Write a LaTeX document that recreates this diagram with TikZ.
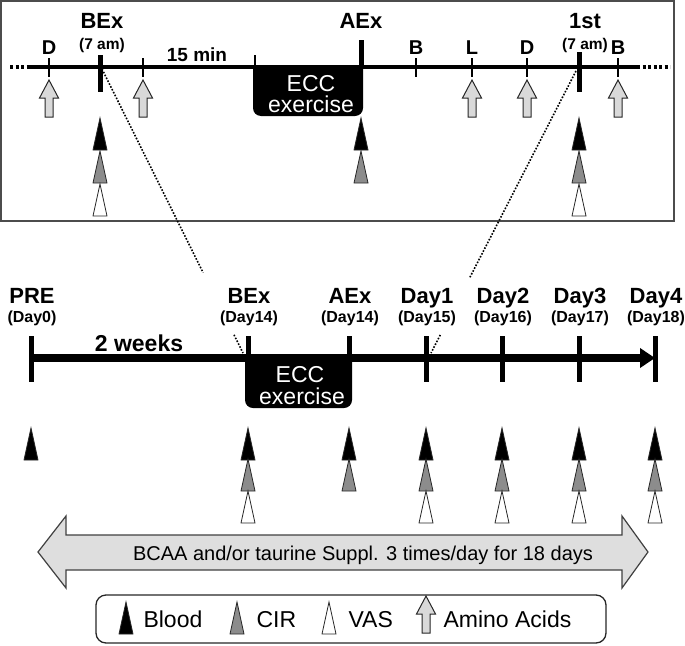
\documentclass[tikz,border=0pt]{standalone}
\usepackage{fontspec}
\setmainfont{Liberation Sans}
\usetikzlibrary{arrows.meta,calc}

\tikzset{
  lbl/.style={font=\fontsize{22}{24}\selectfont\bfseries, anchor=base},
  sublbl/.style={font=\fontsize{16}{18}\selectfont\bfseries, anchor=base},
  mlbl/.style={font=\fontsize{20}{22}\selectfont\bfseries, anchor=base},
  ecctext/.style={font=\fontsize{23}{25}\selectfont, text=white, anchor=base},
  marker/.style={draw=black!85, line width=0.8pt, line join=miter},
  blood/.style={marker, fill=black},
  cir/.style={marker, fill=black!45},
  vas/.style={marker, fill=white},
  pics/tri/.style={code={\path[#1] (-7,0) -- (0,-32) -- (7,0) -- cycle;}},
  pics/amino/.style={code={\path[marker, fill=black!15, line width=1pt]
    (-4,0) -- (-4,-19) -- (-9.5,-19) -- (0,-37) -- (9.5,-19) -- (4,-19) -- (4,0) -- cycle;}},
  tick/.style={line width=2.5pt},
  bigtick/.style={line width=5pt},
  zoomline/.style={line width=1.6pt, dash pattern=on 1.6pt off 1.6pt},
  legtext/.style={font=\fontsize{23}{25}\selectfont, anchor=base west},
}

\begin{document}
\begin{tikzpicture}[x=1pt,y=-1pt]
  \useasboundingbox (0,0) rectangle (685,645);

  % zoomed first day
  \draw[black!70,line width=1.5pt] (0.75,0.75) rectangle (674,221);
  \draw[line width=3.5pt,dash pattern=on 3pt off 2.5pt] (10,67) -- (30,67);
  \draw[line width=3.5pt,dash pattern=on 3pt off 2.5pt] (637,67) -- (670,67);
  \draw[line width=3.5pt] (30,67) -- (637,67);

  \coordinate (tD1) at (49,67);
  \coordinate (tBEx) at (100,67);
  \coordinate (tAA) at (143,67);
  \coordinate (tECC) at (255,67);
  \coordinate (tAEx) at (361,67);
  \coordinate (tB1) at (416,67);
  \coordinate (tL) at (472,67);
  \coordinate (tD2) at (527,67);
  \coordinate (tFirst) at (579,67);
  \coordinate (tB2) at (618,67);

  \foreach \t in {tD1,tAA,tB1,tL,tD2,tB2}
    \draw[tick] ($(\t)+(0,-9)$) -- ++(0,19);
  \draw[tick] (tECC) -- ++(0,-12);
  \draw[bigtick] ($(tBEx)+(0,-12)$) -- ++(0,37);
  \draw[bigtick] ($(tFirst)+(0,-15)$) -- ++(0,40);
  \draw[bigtick] (tAEx) -- ++(0,-27);

  \fill (253,67) -- (253,108) arc[start angle=180,end angle=90,radius=8]
    -- (355,116) arc[start angle=90,end angle=0,radius=8] -- (363,67) -- cycle;
  \node[ecctext] at (311,91) {ECC};
  \node[ecctext] at (311,112) {exercise};

  \node[lbl] at ($(tBEx)+(2,-39)$) {BEx};
  \node[sublbl,font=\fontsize{15.5}{17}\selectfont\bfseries] at ($(tBEx)+(2,-18)$) {(7 am)};
  \node[lbl] at ($(tAEx)+(0,-39)$) {AEx};
  \node[lbl] at ($(tFirst)+(6,-39)$) {1st};
  \node[sublbl,font=\fontsize{15.5}{17}\selectfont\bfseries] at ($(tFirst)+(6,-18)$) {(7 am)};
  \node[mlbl,font=\fontsize{19}{21}\selectfont\bfseries] at (197,61) {15 min};
  \foreach \t/\n in {tD1/D,tB1/B,tL/L,tD2/D,tB2/B}
    \node[mlbl] at ($(\t)+(0,-13)$) {\n};

  \foreach \t in {tD1,tAA,tL,tD2,tB2}
    \pic at ($(\t)+(0,50)$) {amino};
  \foreach \t in {tBEx,tAEx,tFirst}
    \pic at ($(\t)+(0,83)$) {tri=blood};
  \foreach \t in {tBEx,tAEx,tFirst}
    \pic at ($(\t)+(0,116)$) {tri=cir};
  \foreach \t in {tBEx,tFirst}
    \pic at ($(\t)+(0,149)$) {tri=vas};

  % whole protocol
  \coordinate (bPRE) at (31,358);
  \coordinate (bBEx) at (248,358);
  \coordinate (bAEx) at (349,358);
  \coordinate (bD1) at (426,358);
  \coordinate (bD2) at (502,358);
  \coordinate (bD3) at (579,358);
  \coordinate (bD4) at (655,358);

  % zoom lines
  \coordinate (zA1) at (102,69);
  \coordinate (zA2) at (243,353);
  \coordinate (zB1) at (576,71);
  \coordinate (zB2) at (431,353);
  \draw[zoomline] (zA1) -- ($(zA1)!0.717!(zA2)$);
  \draw[zoomline] ($(zA1)!0.936!(zA2)$) -- (zA2);
  \draw[zoomline] (zB1) -- ($(zB1)!0.734!(zB2)$);
  \draw[zoomline] ($(zB1)!0.936!(zB2)$) -- (zB2);

  \draw[line width=8pt,-{Triangle[length=15pt,width=19pt]}] (bPRE) -- (bD4);
  \foreach \t in {bPRE,bD1,bD2,bD3,bD4}
    \draw[bigtick] ($(\t)+(0,-22)$) -- ++(0,46);
  \foreach \t in {bBEx,bAEx}
    \draw[bigtick] (\t) -- ++(0,-22);

  \fill (245,358) -- (245,400) arc[start angle=180,end angle=90,radius=8]
    -- (344,408) arc[start angle=90,end angle=0,radius=8] -- (352,358) -- cycle;
  \node[ecctext] at (300,382) {ECC};
  \node[ecctext] at (302,404) {exercise};

  \foreach \t/\n/\d in {bPRE/PRE/0,bBEx/BEx/14,bAEx/AEx/14,bD1/Day1/15,bD2/Day2/16,bD3/Day3/17,bD4/Day4/18} {
    \node[lbl] at ($(\t)+(1,-55)$) {\n};
    \node[sublbl] at ($(\t)+(1,-36)$) {(Day\d)};
  }
  \node[lbl,font=\fontsize{23}{25}\selectfont\bfseries] at (139,351) {2 weeks};

  \foreach \t in {bPRE,bBEx,bAEx,bD1,bD2,bD3,bD4}
    \pic at ($(\t)+(0,102)$) {tri=blood};
  \foreach \t in {bBEx,bAEx,bD1,bD2,bD3,bD4}
    \pic at ($(\t)+(0,133)$) {tri=cir};
  \foreach \t in {bBEx,bD1,bD2,bD3,bD4}
    \pic at ($(\t)+(0,165)$) {tri=vas};

  % supplementation
  \draw[black!75,fill=black!13,line width=1.2pt,line join=miter]
    (38,552) -- (66,516) -- (66,535) -- (622,535) -- (622,516) -- (648,552)
    -- (622,588) -- (622,570) -- (66,570) -- (66,588) -- cycle;
  \node[font=\fontsize{20}{22}\selectfont,anchor=base] (suppl) at (363,560)
    {BCAA and/or taurine Suppl. 3 times/day for 18 days};

  % legend
  \draw[black!85,line width=1.3pt,rounded corners=10pt] (96,595) rectangle (606,643);
  \pic at (126,634) {tri=blood};
  \node[legtext] at (140,627) {Blood};
  \pic at (237,634) {tri=cir};
  \node[legtext] at (253,627) {CIR};
  \pic at (329,634) {tri=vas};
  \node[legtext] at (345,627) {VAS};
  \pic at (426,633) {amino};
  \node[legtext] at (440,627) {Amino Acids};
\end{tikzpicture}
\end{document}
